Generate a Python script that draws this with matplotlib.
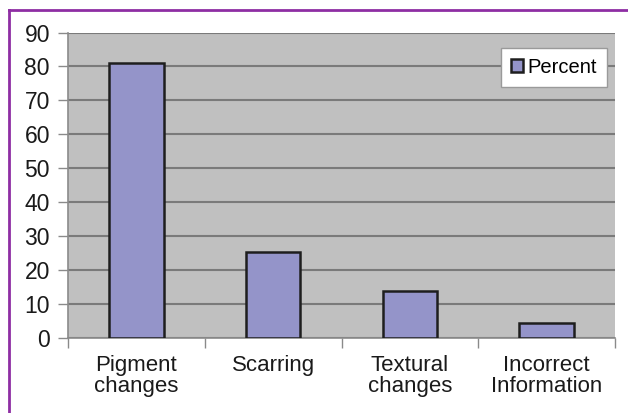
import matplotlib
matplotlib.use("Agg")
import matplotlib.pyplot as plt
from matplotlib.lines import Line2D

categories = ["Pigment\nchanges", "Scarring", "Textural\nchanges", "Incorrect\nInformation"]
percent = [81.1, 25.3, 13.9, 4.4]
y_ticks = [0, 10, 20, 30, 40, 50, 60, 70, 80, 90]
series_name = "Percent"

plt.rcParams['font.family'] = ['Liberation Sans', 'DejaVu Sans']

fig = plt.figure(figsize=(6.28, 4.13), dpi=100)
fig.patch.set_facecolor('white')
ax = fig.add_axes([68/628, 1-338/413, (615-68)/628, (338-32.5)/413])
ax.set_facecolor('#c0c0c0')

x = list(range(len(categories)))
ax.bar(x, percent, width=0.4, color='#9494c9', edgecolor='#1e1e1e',
       linewidth=1.8, zorder=3, label=series_name)

ax.set_xlim(-0.5, len(categories) - 0.5)
ax.set_ylim(0, 90)
ax.set_yticks(y_ticks)
ax.set_yticklabels([str(v) for v in y_ticks], fontsize=16.5, color='#1a1a1a')
ax.yaxis.grid(True, color='#7a7a7a', linewidth=1.5, zorder=1)
ax.set_axisbelow(True)

# category boundary ticks (major) and labels (minor)
ax.set_xticks([i - 0.5 for i in range(len(categories) + 1)])
ax.set_xticklabels([])
ax.set_xticks(x, minor=True)
ax.set_xticklabels(categories, minor=True, fontsize=16, color='#1a1a1a', linespacing=1.0)
ax.tick_params(axis='x', which='minor', length=0, pad=12)
ax.tick_params(axis='x', which='major', length=7, width=1, color='#8a8a8a')
ax.tick_params(axis='y', length=7, width=1, color='#8a8a8a', pad=6)

for s in ['top', 'right']:
    ax.spines[s].set_visible(False)
for s in ['left', 'bottom']:
    ax.spines[s].set_color('#8a8a8a')
    ax.spines[s].set_linewidth(1.2)

leg = ax.legend(loc='upper right', bbox_to_anchor=(0.985, 0.95), fontsize=14.5,
                frameon=True, fancybox=False, edgecolor='#9a9a9a', facecolor='white',
                framealpha=1, handlelength=0.6, handleheight=0.6, handletextpad=0.2,
                borderpad=0.5, borderaxespad=0)
leg.get_frame().set_linewidth(1.0)

# purple frame around figure
fig.add_artist(Line2D([9/628, 9/628], [0, 1-10/413], transform=fig.transFigure,
                      color='#8e2ea3', linewidth=2))
fig.add_artist(Line2D([9/628, 1], [1-10/413, 1-10/413], transform=fig.transFigure,
                      color='#8e2ea3', linewidth=2))

fig.savefig('out.png', dpi=100)
